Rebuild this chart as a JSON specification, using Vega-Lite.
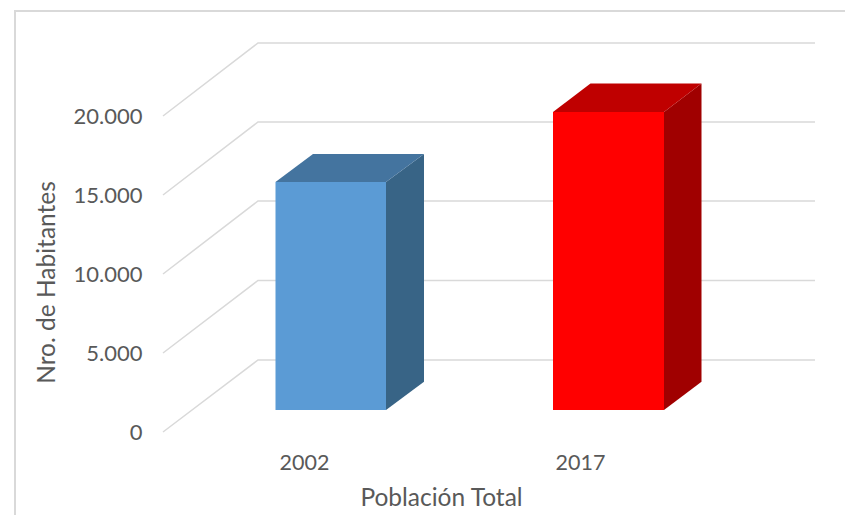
{
"$schema":"https://vega.github.io/schema/vega-lite/v6.json",
"width":845,"height":515,"padding":0,"autosize":{"type":"none"},
"background":"#ffffff",
"config":{"view":{"stroke":null},"font":"Lato"},
"datasets":{
"frame":[{"x":0.15,"habitantes":-5253,"o":1},{"x":0.15,"habitantes":26640,"o":2},{"x":8.45,"habitantes":26640,"o":3}],
"grid":[
{"level":0,"x":1.63,"habitantes":0},{"level":0,"x":2.58,"habitantes":4557},{"level":0,"x":8.15,"habitantes":4557},
{"level":5000,"x":1.63,"habitantes":5000},{"level":5000,"x":2.58,"habitantes":9589},{"level":5000,"x":8.15,"habitantes":9589},
{"level":10000,"x":1.63,"habitantes":10000},{"level":10000,"x":2.58,"habitantes":14620},{"level":10000,"x":8.15,"habitantes":14620},
{"level":15000,"x":1.63,"habitantes":15000},{"level":15000,"x":2.58,"habitantes":19620},{"level":15000,"x":8.15,"habitantes":19620},
{"level":20000,"x":1.63,"habitantes":20000},{"level":20000,"x":2.58,"habitantes":24620},{"level":20000,"x":8.15,"habitantes":24620}
],
"front":[
{"face":"2002 front","x":2.755,"x2":3.86,"habitantes":15823,"base":1392},
{"face":"2017 front","x":5.53,"x2":6.64,"habitantes":20253,"base":1392}
],
"side":[
{"face":"2002 side","x":3.86,"habitantes":15823,"base":1392},
{"face":"2002 side","x":4.24,"habitantes":17595,"base":3184},
{"face":"2017 side","x":6.64,"habitantes":20253,"base":1392},
{"face":"2017 side","x":7.015,"habitantes":22057,"base":3184}
],
"top":[
{"face":"2002 top","x":2.755,"x2":3.86,"habitantes":15823},
{"face":"2002 top","x":3.13,"x2":4.24,"habitantes":17595},
{"face":"2017 top","x":5.53,"x2":6.64,"habitantes":20253},
{"face":"2017 top","x":5.905,"x2":7.015,"habitantes":22057}
]
},
"layer":[
{"data":{"name":"frame"},"mark":{"type":"line","stroke":"#d9d9d9","strokeWidth":2,"clip":false},
"encoding":{
"x":{"field":"x","type":"quantitative","scale":{"domain":[0,8.45],"nice":false,"zero":false},
"axis":{"title":"Población Total","values":[3.04,5.8],"labelExpr":"datum.value<4?'2002':'2017'","orient":"bottom","offset":-63,"domain":false,"ticks":false,"grid":false,"labelPadding":0,"labelFontSize":21.5,"labelColor":"#595959","labelOverlap":false,"labelFlush":false,"labelBaseline":"top","titleFontSize":24.5,"titleFont":"Lato","titleFontWeight":"normal","titleColor":"#595959","titleX":441,"titleY":46,"titleBaseline":"middle"}},
"y":{"field":"habitantes","type":"quantitative","scale":{"domain":[-5253,27342],"nice":false,"zero":false},
"axis":{"title":"Nro. de Habitantes","values":[0,5000,10000,15000,20000],"labelExpr":"replace(format(datum.value,','),',','.')","orient":"left","offset":-148,"domain":false,"ticks":false,"grid":false,"labelPadding":6,"labelFontSize":22,"labelColor":"#595959","labelOverlap":false,"labelFlush":false,"titleFontSize":24.5,"titleFontWeight":"normal","titleColor":"#595959","titleX":-101,"titleY":282,"titleBaseline":"middle"}},
"order":{"field":"o"}
}},
{"data":{"name":"grid"},"mark":{"type":"line","stroke":"#d9d9d9","strokeWidth":1.5},
"encoding":{"x":{"field":"x","type":"quantitative"},"y":{"field":"habitantes","type":"quantitative"},"detail":{"field":"level"}}},
{"data":{"name":"side"},"mark":{"type":"area"},
"encoding":{"x":{"field":"x","type":"quantitative"},"y":{"field":"habitantes","type":"quantitative","stack":null},"y2":{"field":"base"},
"color":{"field":"face","type":"nominal","legend":null,"scale":{"domain":["2002 front","2002 side","2002 top","2017 front","2017 side","2017 top"],"range":["#5b9bd5","#386486","#44749f","#ff0000","#a00000","#bf0000"]}}}},
{"data":{"name":"top"},"mark":{"type":"area","orient":"horizontal"},
"encoding":{"x":{"field":"x","type":"quantitative","stack":null},"x2":{"field":"x2"},"y":{"field":"habitantes","type":"quantitative"},
"color":{"field":"face","type":"nominal","legend":null}}},
{"data":{"name":"front"},"mark":{"type":"rect"},
"encoding":{"x":{"field":"x","type":"quantitative"},"x2":{"field":"x2"},"y":{"field":"habitantes","type":"quantitative"},"y2":{"field":"base"},
"color":{"field":"face","type":"nominal","legend":null}}}
]
}
